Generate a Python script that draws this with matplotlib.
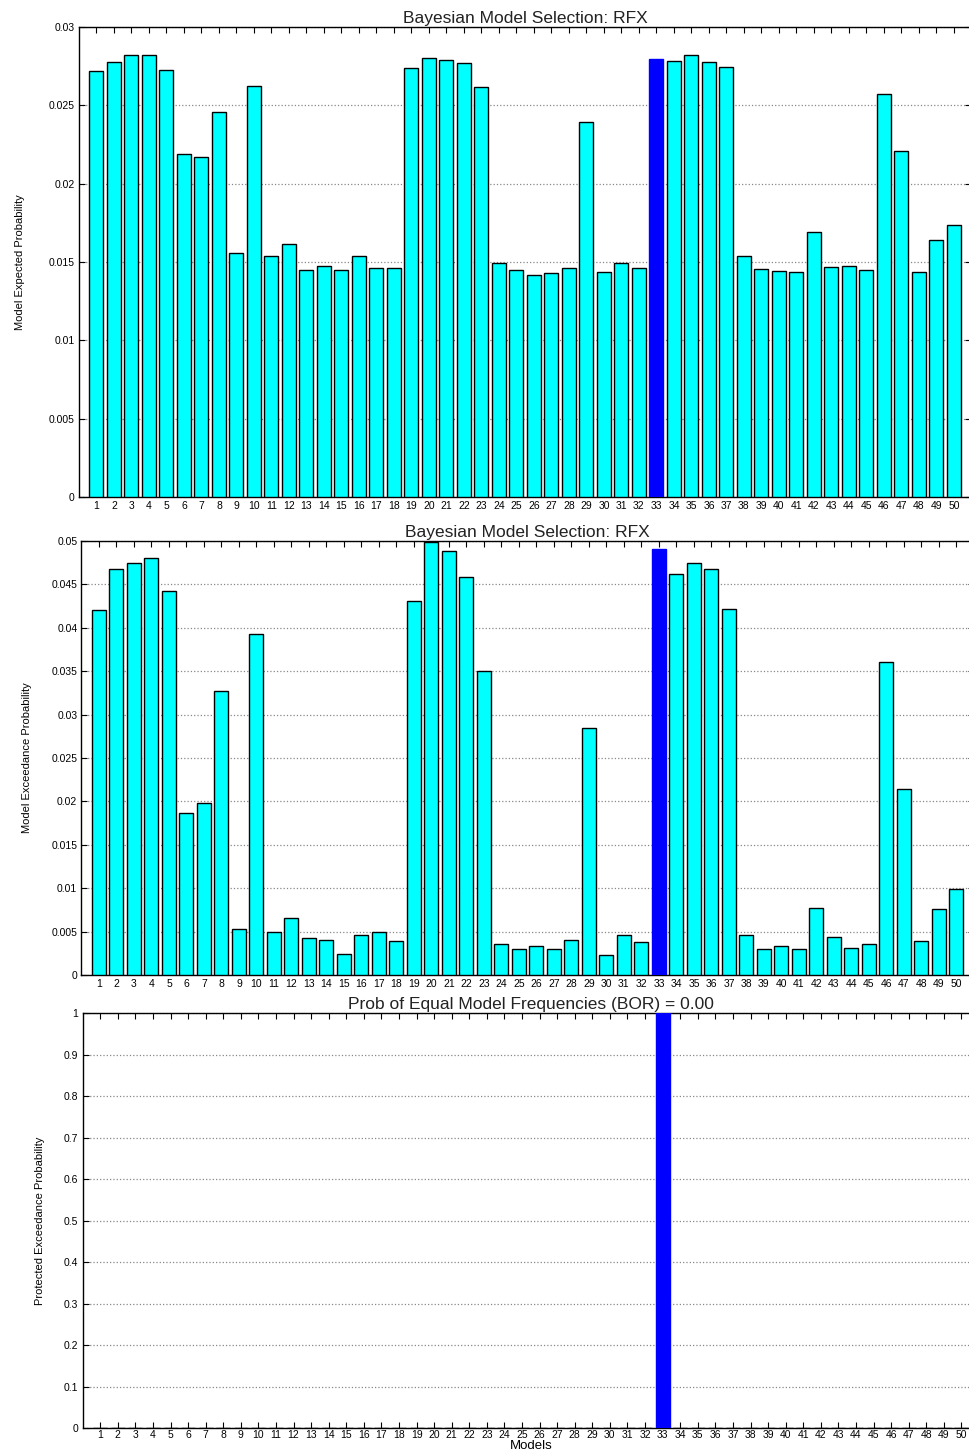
import matplotlib
matplotlib.use("Agg")
import matplotlib.pyplot as plt
import numpy as np

plt.rcParams['font.family'] = ['Liberation Sans', 'DejaVu Sans']

models = list(range(1, 51))

# model expected probability (top panel)
exp_prob = [0.02719, 0.02774, 0.02819, 0.02823, 0.02728, 0.02191, 0.02168, 0.02460, 0.01560, 0.02626,
            0.01536, 0.01617, 0.01451, 0.01472, 0.01451, 0.01536, 0.01464, 0.01464, 0.02738, 0.02804,
            0.02791, 0.02772, 0.02617, 0.01496, 0.01451, 0.01415, 0.01432, 0.01460, 0.02391, 0.01436,
            0.01494, 0.01460, 0.02798, 0.02783, 0.02823, 0.02774, 0.02743, 0.01536, 0.01455, 0.01445,
            0.01436, 0.01691, 0.01470, 0.01474, 0.01449, 0.02570, 0.02206, 0.01438, 0.01643, 0.01736]

# model exceedance probability (middle panel)
exc_prob = [0.04202, 0.04673, 0.04742, 0.04800, 0.04423, 0.01866, 0.01982, 0.03272, 0.00535, 0.03923,
            0.00500, 0.00653, 0.00426, 0.00403, 0.00246, 0.00465, 0.00500, 0.00388, 0.04304, 0.04990,
            0.04888, 0.04580, 0.03502, 0.00354, 0.00296, 0.00330, 0.00296, 0.00407, 0.02846, 0.00227,
            0.00457, 0.00377, 0.04908, 0.04615, 0.04742, 0.04673, 0.04212, 0.00465, 0.00304, 0.00334,
            0.00296, 0.00776, 0.00438, 0.00315, 0.00354, 0.03606, 0.02143, 0.00392, 0.00760, 0.00991]

# protected exceedance probability (bottom panel)
pep = [0.0] * 50
pep[32] = 1.0

bor = 0.00

titles = ["Bayesian Model Selection: RFX",
          "Bayesian Model Selection: RFX",
          "Prob of Equal Model Frequencies (BOR) = %.2f" % bor]
ylabels = ["Model Expected Probability",
           "Model Exceedance Probability",
           "Protected Exceedance Probability"]
yticks = [[0, 0.005, 0.01, 0.015, 0.02, 0.025, 0.03],
          [0, 0.005, 0.01, 0.015, 0.02, 0.025, 0.03, 0.035, 0.04, 0.045, 0.05],
          [0, 0.1, 0.2, 0.3, 0.4, 0.5, 0.6, 0.7, 0.8, 0.9, 1]]
ylims = [0.03, 0.05, 1.0]

best = int(np.argmax(pep))

fig = plt.figure(figsize=(9.69, 14.52), dpi=100)
positions = [[0.0815, 0.6577, 0.921, 0.3237],
             [0.0841, 0.3285, 0.921, 0.2989],
             [0.0853, 0.0165, 0.925, 0.2858]]
label_x = [-0.0605, -0.0555, -0.042]

series = [exp_prob, exc_prob, pep]
for k in range(3):
    ax = fig.add_axes(positions[k])
    cols = ['cyan'] * 50
    edges = ['black'] * 50
    cols[best] = 'blue'
    edges[best] = 'blue'
    ax.bar(models, series[k], width=0.8, color=cols, edgecolor=edges, linewidth=1.0, zorder=3)
    ax.set_xlim(0, 51)
    ax.set_ylim(0, ylims[k])
    ax.set_xticks(models)
    ax.set_xticklabels([str(m) for m in models], fontsize=7.5)
    ax.set_yticks(yticks[k])
    ax.set_yticklabels(['%g' % v for v in yticks[k]], fontsize=7.5)
    ax.tick_params(direction='in', length=4, width=0.8, top=True, right=True, pad=3)
    ax.yaxis.grid(True, linestyle=':', color='#888888', linewidth=0.9)
    ax.set_axisbelow(True)
    for s in ax.spines.values():
        s.set_linewidth(1.0)
    ax.set_title(titles[k], fontsize=12.5, pad=3, color='#222222')
    ax.set_ylabel(ylabels[k], fontsize=8)
    ax.yaxis.set_label_coords(label_x[k], 0.5)
    if k == 2:
        ax.tick_params(axis='x', pad=1.5)
        ax.set_xlabel("Models", fontsize=9.5, va='bottom')
        ax.xaxis.set_label_coords(0.5, -0.0575)

fig.savefig("out.png", dpi=100)
